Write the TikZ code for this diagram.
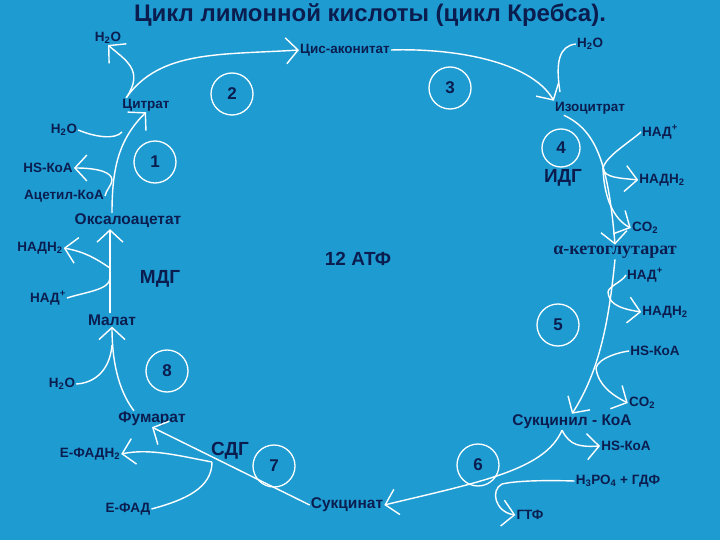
\documentclass[tikz,border=0pt]{standalone}
\usepackage{fontspec}
\setmainfont{Liberation Sans}
\newfontfamily\serifcyr{Liberation Serif}
\usetikzlibrary{arrows.meta}
\definecolor{bg}{HTML}{1E9CD2}
\definecolor{ink}{HTML}{0B1D4F}
\tikzset{
  lab/.style={text=ink,font=\bfseries\fontsize{13.5}{14}\selectfont,inner sep=1pt},
  mid/.style={text=ink,font=\bfseries\fontsize{15.5}{16}\selectfont,inner sep=1pt},
  big/.style={text=ink,font=\bfseries\fontsize{19}{20}\selectfont,inner sep=1pt},
  num/.style={draw=white,line width=1.3pt,circle,minimum size=42pt,text=ink,font=\bfseries\fontsize{17}{18}\selectfont},
  ar/.style={draw=white,line width=1.4pt,-{Straight Barb[length=12pt,width=26pt]}},
  ln/.style={draw=white,line width=1.4pt},
}
\begin{document}
\begin{tikzpicture}[x=1pt,y=-1pt]
\fill[bg] (0,0) rectangle (720,540);
\useasboundingbox (0,0) rectangle (720,540);
\node[text=ink,font=\bfseries\fontsize{24}{26}\selectfont] (title) at (370,15) {Цикл лимонной кислоты (цикл Кребса).};
\node[lab] (h2oA) at (108,38) {H\textsubscript{2}O};
\node[lab] (cis) at (345,50) {Цис-аконитат};
\node[lab] (h2oB) at (590,44) {H\textsubscript{2}O};
\node[lab] (cit) at (146,105) {Цитрат};
\node[lab] (iso) at (590,108) {Изоцитрат};
\node[lab] (h2oC) at (64,130) {H\textsubscript{2}O};
\node[lab] (nadA) at (660,132) {НАД\textsuperscript{+}};
\node[lab] (hsA) at (48,168) {HS-КоА};
\node[big] (idg) at (563,178) {ИДГ};
\node[lab] (nadhA) at (662,180) {НАДН\textsubscript{2}};
\node[lab] (acet) at (64,196) {Ацетил-КоА};
\node[mid] (oxa) at (128,221) {Оксалоацетат};
\node[lab] (co2A) at (645,228) {CO\textsubscript{2}};
\node[lab] (nadhB) at (40,248) {НАДН\textsubscript{2}};
\node[text=ink,font=\serifcyr\bfseries\fontsize{18}{19}\selectfont,inner sep=1pt] (akg) at (615,252) {α-кетоглутарат};
\node[big] (atp) at (358,259) {12 АТФ};
\node[big] (mdg) at (160,279) {МДГ};
\node[lab] (nadB) at (645,275) {НАД\textsuperscript{+}};
\node[lab] (nadC) at (48,298) {НАД\textsuperscript{+}};
\node[lab] (nadhC) at (665,312) {НАДН\textsubscript{2}};
\node[mid] (mal) at (112,320) {Малат};
\node[lab] (hsB) at (655,351) {HS-КоА};
\node[lab] (h2oD) at (62,384) {H\textsubscript{2}O};
\node[lab] (co2B) at (642,403) {CO\textsubscript{2}};
\node[mid] (suk) at (572,422) {Сукцинил - КоА};
\node[mid] (fum) at (152,419) {Фумарат};
\node[big] (sdg) at (230,451) {СДГ};
\node[lab] (fadh) at (90,454) {Е-ФАДН\textsubscript{2}};
\node[lab] (hsC) at (626,446) {HS-КоА};
\node[lab] (hpo) at (618,481) {Н\textsubscript{3}РО\textsubscript{4} + ГДФ};
\node[lab] (fad) at (128,509) {Е-ФАД};
\node[mid] (sukc) at (347,505) {Сукцинат};
\node[lab] (gtf) at (530,515) {ГТФ};
\node[num] (c1) at (155,162) {1};
\node[num] (c2) at (232,94) {2};
\node[num] (c3) at (450,88) {3};
\node[num,minimum size=38pt] (c4) at (561,148) {4};
\node[num] (c5) at (558,325) {5};
\node[num] (c6) at (478,465) {6};
\node[num] (c7) at (274,466) {7};
\node[num] (c8) at (167,371) {8};
% junctions
\coordinate (j2) at (603,168);
\coordinate (j3) at (608,292);
\coordinate (j4) at (596,368);
\coordinate (j5) at (502,484);
\coordinate (j6) at (212,462);
\coordinate (j7) at (112,345);
\coordinate (j8) at (110,278);
\coordinate (j9) at (112,180);
\coordinate (j10) at (122,132);
% 1 oxaloacetate -> citrate
\draw[ar] (oxa.north -| j9) .. controls (112,170) and (118,140) .. (cit.south);
\draw[ln] (acet.east) .. controls (106,190) and (112,185) .. (j9);
\draw[ar] (j9) .. controls (112,173) and (100,168) .. (hsA.east);
\draw[ln] (h2oC.east) .. controls (95,137) and (115,140) .. (j10);
% 2 citrate -> cis-aconitate -> H2O
\draw[ar] (cit.north west) ++(5,0) coordinate (cs) .. controls (145,70) and (125,60) .. (h2oA.south);
\draw[ar] (cs) .. controls (160,50) and (220,55) .. (cis.west);
% 3 cis -> isocitrate
\draw[ar] (cis.east) .. controls (450,48) and (530,60) .. (iso.north west);
\draw[ln] (h2oB.west) .. controls (560,46) and (555,60) .. (560,92);
% 4 isocitrate -> akg
\draw[ar] (iso.south west) ++(10,0) .. controls (595,130) and (608,160) .. (akg.north);
\draw[ln] (nadA.west) .. controls (630,142) and (606,156) .. (j2);
\draw[ar] (j2) .. controls (604,178) and (620,178) .. (nadhA.west);
\draw[ar] (j2) .. controls (604,200) and (615,220) .. (co2A.west);
% 5 akg -> succinyl
\draw[ar] (akg.south) .. controls (609,320) and (600,370) .. (suk.north);
\draw[ln] (nadB.west) .. controls (622,282) and (609,286) .. (j3);
\draw[ar] (j3) .. controls (609,302) and (615,308) .. (nadhC.west);
\draw[ln] (hsB.west) .. controls (620,352) and (598,358) .. (j4);
\draw[ar] (j4) .. controls (598,385) and (612,395) .. (co2B.west);
% 6 succinyl -> succinate
\draw[ar] (suk.south) ++(-10,0) coordinate (sk) .. controls (545,470) and (480,482) .. (sukc.east);
\draw[ar] (sk) .. controls (570,446) and (580,447) .. (hsC.west);
\draw[ln] (hpo.west) .. controls (540,480) and (515,481) .. (j5);
\draw[ar] (j5) .. controls (490,490) and (495,512) .. (gtf.west);
% 7 succinate -> fumarate
\draw[ar] (sukc.west) -- (fum.south);
\draw[ln] (fad.east) .. controls (185,500) and (212,488) .. (j6);
\draw[ar] (j6) .. controls (180,456) and (150,448) .. (fadh.east);
% 8 fumarate -> malate
\draw[ar] (fum.north) ++(-18,0) .. controls (118,390) and (112,360) .. (mal.south);
\draw[ln] (h2oD.east) .. controls (95,383) and (110,370) .. (j7);
% malate -> oxaloacetate
\draw[ar] (mal.north) ++(-2,0) -- (oxa.south -| 110,0);
\draw[ln] (nadC.east) .. controls (85,292) and (110,290) .. (j8);
\draw[ar] (110,268) .. controls (95,258) and (85,252) .. (nadhB.east);
\end{tikzpicture}
\end{document}
